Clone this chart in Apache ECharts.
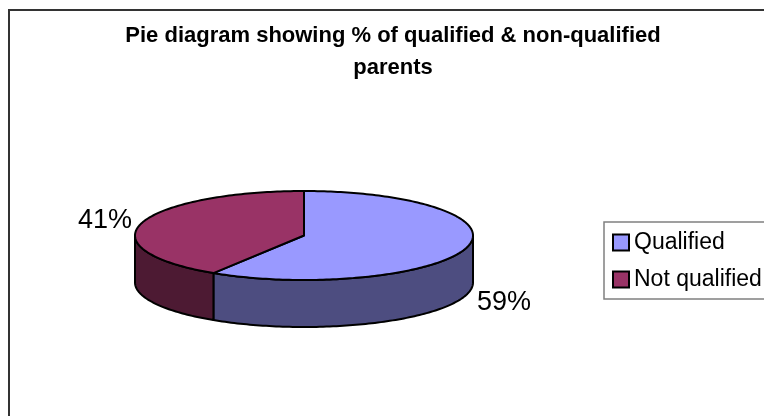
<!DOCTYPE html>
<html><head><meta charset="utf-8">
<style>html,body{margin:0;padding:0;background:#fff}#c{width:764px;height:416px}</style>
<script src="https://cdn.jsdelivr.net/npm/echarts@6/dist/echarts.min.js"></script>
</head><body><div id="c"></div>
<script>
const categories = ['Qualified', 'Not qualified'];
const values = [59, 41];
const labels = ['59%', '41%'];
const topColors = ['#9999FF', '#993366'];
const sideColors = ['#4D4D80', '#4D1A33'];
const titleText = 'Pie diagram showing % of qualified & non-qualified\nparents';

const DEPTH = 47;
const total = values.reduce((a, b) => a + b, 0);
// cumulative clockwise-from-top angles, derived from the data
const starts = values.map((_, i) => values.slice(0, i).reduce((a, b) => a + b, 0) / total * Math.PI * 2);
const ends = values.map((_, i) => values.slice(0, i + 1).reduce((a, b) => a + b, 0) / total * Math.PI * 2);

function arc(api, a0, a1) {
  const pts = [];
  const n = Math.max(8, Math.ceil((a1 - a0) / 0.02));
  for (let k = 0; k <= n; k++) {
    const a = a0 + (a1 - a0) * k / n;
    pts.push(api.coord([Math.sin(a), Math.cos(a)]));
  }
  return pts;
}
function renderSlice(i) {
  return function (params, api) {
    const a0 = starts[i], a1 = ends[i];
    const children = [];
    // visible part of the wall: front half of the ellipse (90deg to 270deg clockwise from top)
    const s0 = Math.max(a0, Math.PI / 2), s1 = Math.min(a1, Math.PI * 1.5);
    const stroke = { stroke: '#000', lineWidth: 2, lineJoin: 'round' };
    if (s1 > s0) {
      const rim = arc(api, s0, s1);
      const low = rim.map(p => [p[0], p[1] + DEPTH]).reverse();
      children.push({ type: 'polygon', shape: { points: rim.concat(low) }, style: Object.assign({ fill: sideColors[i] }, stroke) });
    }
    const c = api.coord([0, 0]);
    children.push({ type: 'polygon', shape: { points: [c].concat(arc(api, a0, a1)) }, style: Object.assign({ fill: topColors[i] }, stroke) });
    return { type: 'group', children };
  };
}
const series = categories.map((name, i) => ({
  type: 'custom', name, coordinateSystem: 'cartesian2d', silent: true, clip: false, animation: false,
  itemStyle: { color: topColors[i], borderColor: '#000', borderWidth: 2 },
  renderItem: renderSlice(i),
  data: [[0, 0, values[i]]],
  encode: { x: 0, y: 1 }
}));

const chart = echarts.init(document.getElementById('c'), null, { renderer: 'canvas' });
chart.setOption({
  animation: false,
  backgroundColor: '#fff',
  title: {
    text: titleText, left: 388, top: 15, textAlign: 'center',
    textStyle: { fontFamily: 'Liberation Sans', fontWeight: 'bold', fontSize: 22, lineHeight: 32, color: '#000' }
  },
  legend: {
    data: categories, orient: 'vertical', left: 604, top: 222, padding: [9, 9, 8, 8], itemGap: 14,
    itemWidth: 16, itemHeight: 16, icon: 'rect', selectedMode: false,
    borderColor: '#808080', borderWidth: 1.5, backgroundColor: '#fff',
    textStyle: { fontFamily: 'Liberation Sans', fontSize: 23, color: '#000' }
  },
  grid: { left: 135, width: 338, top: 191, height: 89 },
  xAxis: { type: 'value', min: -1, max: 1, show: false },
  yAxis: { type: 'value', min: -1, max: 1, show: false },
  series: series,
  graphic: [
    { type: 'rect', silent: true, z: 10, shape: { x: 9, y: 10, width: 900, height: 600 }, style: { fill: 'none', stroke: '#333', lineWidth: 2 } },
    { type: 'text', silent: true, left: 477, top: 289, style: { text: labels[0], font: '27px "Liberation Sans"', fill: '#000' } },
    { type: 'text', silent: true, left: 78, top: 207, style: { text: labels[1], font: '27px "Liberation Sans"', fill: '#000' } }
  ]
});
</script></body></html>
